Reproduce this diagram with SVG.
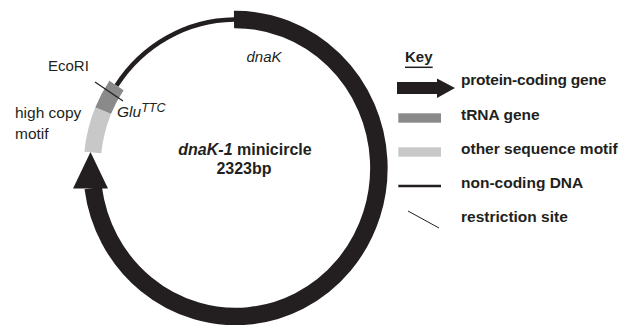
<svg xmlns="http://www.w3.org/2000/svg" width="634" height="325" viewBox="0 0 634 325">
<style>
.t{font-family:"Liberation Sans",Arial,sans-serif;fill:#231f20}
.b{font-weight:bold}
.i{font-style:italic}
.band{fill:none;stroke-linecap:butt}
</style>
<rect width="634" height="325" fill="#fff"/>
<g id="connectors">
<path id="noncoding" class="band" d="M234,19.5 A143.5 148.5 0 0 0 116.5,85.5" stroke="#231f20" stroke-width="4.5"/>
</g>
<g id="dnaK">
<path class="band" d="M234,19.5 A143.5 148.5 0 1 1 93.2,188" stroke="#231f20" stroke-width="17.5"/>
<polygon points="90.5,152 73,188.5 108,188.5" fill="#231f20"/>
<text class="t i" x="246.5" y="61.5" font-size="15">dnaK</text>
</g>
<g id="tRNA">
<path class="band" d="M116.5,85.5 A143.5 148.5 0 0 0 103.1,110.7" stroke="#8a8a8a" stroke-width="17"/>
<text class="t i" x="117" y="116.5" font-size="15.5">Glu<tspan font-size="12.5" dy="-4.5">TTC</tspan></text>
</g>
<g id="motif">
<path class="band" d="M103.1,110.7 A143.5 148.5 0 0 0 92.8,152.5" stroke="#c8c8c8" stroke-width="17"/>
<text class="t" x="15" y="118" font-size="15.5">high copy</text>
<text class="t" x="15" y="138.5" font-size="15.5">motif</text>
</g>
<g id="EcoRI">
<line x1="95" y1="82" x2="123" y2="101" stroke="#231f20" stroke-width="1.2"/>
<text class="t" x="48" y="71" font-size="15">EcoRI</text>
</g>
<g id="title">
<text class="t b" x="245" y="155" font-size="16" text-anchor="middle"><tspan class="i">dnaK-1</tspan> minicircle</text>
<text class="t b" x="244" y="174" font-size="16" text-anchor="middle">2323bp</text>
</g>
<g id="key">
<text class="t b" x="405" y="62" font-size="15">Key</text>
<line x1="405" y1="67.3" x2="432.7" y2="67.3" stroke="#231f20" stroke-width="1.5"/>
<polygon points="397,82 437,82 437,78.5 455,88 437,98 437,94 397,94" fill="#231f20"/>
<rect x="398.3" y="113.3" width="42.7" height="9.4" fill="#8a8a8a"/>
<rect x="398.3" y="147.3" width="42.7" height="9.4" fill="#c8c8c8"/>
<line x1="398.3" y1="186" x2="441" y2="186" stroke="#231f20" stroke-width="2.5"/>
<line x1="408" y1="211" x2="439" y2="228" stroke="#231f20" stroke-width="1"/>
<text class="t b" x="461" y="85" font-size="15.5" letter-spacing="-0.2">protein-coding gene</text>
<text class="t b" x="461" y="119.5" font-size="15.5">tRNA gene</text>
<text class="t b" x="461" y="154" font-size="15.5">other sequence motif</text>
<text class="t b" x="461" y="187.5" font-size="15.5">non-coding DNA</text>
<text class="t b" x="461" y="221.5" font-size="15.5">restriction site</text>
</g>
</svg>
